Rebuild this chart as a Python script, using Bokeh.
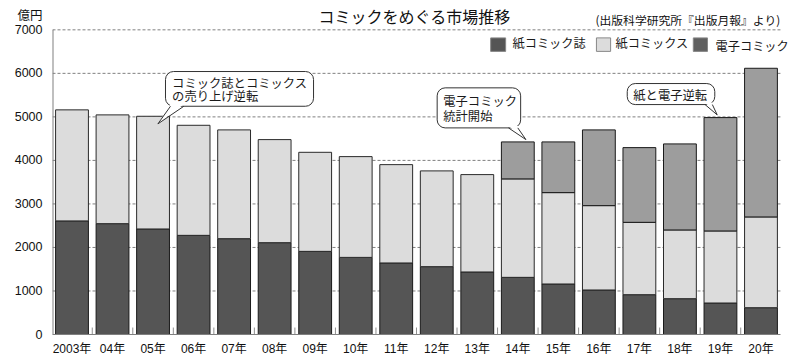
import numpy as np
from bokeh.plotting import figure
from bokeh.models import Range1d, FixedTicker, Label, ColumnDataSource
from bokeh.embed import file_html
from bokeh.resources import INLINE

# ---- data (億円) ----
years = ["2003年", "04年", "05年", "06年", "07年", "08年", "09年", "10年", "11年",
         "12年", "13年", "14年", "15年", "16年", "17年", "18年", "19年", "20年"]
magazines = [2610, 2547, 2425, 2278, 2202, 2110, 1910, 1772, 1644,
             1559, 1437, 1313, 1161, 1023, 915, 823, 724, 616]
comics = [2551, 2499, 2589, 2529, 2499, 2368, 2276, 2315, 2259,
          2200, 2237, 2262, 2099, 1938, 1662, 1579, 1655, 2085]
digital = [0, 0, 0, 0, 0, 0, 0, 0, 0,
           0, 0, 850, 1165, 1740, 1717, 1977, 2605, 3416]
y_ticks = [0, 1000, 2000, 3000, 4000, 5000, 6000, 7000]
series_names = ["紙コミック誌", "紙コミックス", "電子コミック"]
title_text = "コミックをめぐる市場推移"
source_text = "(出版科学研究所『出版月報』より)"
unit_text = "億円"
callouts = [
    ["コミック誌とコミックス", "の売り上げ逆転"],
    ["電子コミック", "統計開始"],
    ["紙と電子逆転"],
]

C_MAG = "#555555"
C_COM = "#dcdcdc"
C_DIG = "#9d9d9d"
JP = "'Noto Sans CJK JP'"
NUM = "'Liberation Sans', 'Noto Sans CJK JP'"

x = np.arange(len(years))
m = np.array(magazines, dtype=float)
c = np.array(comics, dtype=float)
d = np.array(digital, dtype=float)

X0, X1 = -0.481, len(years) - 1 + 0.48   # plotted area (bars + grid)
Y_TOP = 7000
UNIT_Y = 7329

p = figure(width=800, height=361, output_backend="svg", toolbar_location=None,
           x_range=Range1d(X0, 17.975), y_range=Range1d(0, 7674),
           min_border_left=52, min_border_right=0, min_border_top=0, min_border_bottom=27)
p.outline_line_color = None
p.background_fill_color = "white"
p.border_fill_color = "white"

# axes
p.xaxis.ticker = FixedTicker(ticks=list(x))
p.xaxis.major_label_overrides = {int(i): years[i] for i in x}
p.xaxis.bounds = (X0, X1)
p.xaxis.major_tick_line_color = None
p.xaxis.minor_tick_line_color = None
p.xaxis.axis_line_color = "#808080"
p.xaxis.major_label_text_font = NUM
p.xaxis.major_label_text_font_size = "12px"
p.xaxis.major_label_text_color = "#111111"
p.xaxis.major_label_standoff = 1

p.yaxis.ticker = FixedTicker(ticks=y_ticks + [UNIT_Y])
p.yaxis.major_label_overrides = {UNIT_Y: unit_text}
p.yaxis.major_tick_line_color = None
p.yaxis.minor_tick_line_color = None
p.yaxis.axis_line_color = None
p.yaxis.major_label_text_font = NUM
p.yaxis.major_label_text_font_size = "12.5px"
p.yaxis.major_label_text_color = "#111111"
p.yaxis.major_label_standoff = 4

p.xgrid.grid_line_color = None
p.ygrid.grid_line_color = None

# dashed grid lines limited to the plotted area
gy = [t for t in y_ticks if t > 0]
p.segment(x0=[X0] * len(gy), y0=gy, x1=[X1] * len(gy), y1=gy,
          line_color="#808080", line_dash="3 2", line_width=1)
# left axis line (0..7000)
p.segment(x0=[X0], y0=[0], x1=[X0], y1=[Y_TOP], line_color="#808080", line_width=2)

# bars
src = ColumnDataSource(dict(x=x, m=m, mc=m + c))
p.vbar(x="x", bottom=0, top="m", width=0.81, source=src,
       fill_color=C_MAG, line_color="#1a1a1a", line_width=1)
p.vbar(x="x", bottom="m", top="mc", width=0.81, source=src,
       fill_color=C_COM, line_color="#2a2a2a", line_width=1)
mask = d > 0
src_d = ColumnDataSource(dict(x=x[mask], b=(m + c)[mask], t=(m + c + d)[mask]))
p.vbar(x="x", bottom="b", top="t", width=0.81, source=src_d,
       fill_color=C_DIG, line_color="#1a1a1a", line_width=1)

# small boundary ticks on the x axis
bx = [i + 0.5 for i in range(len(years) - 1)]
p.segment(x0=bx, y0=[0] * len(bx), x1=bx, y1=[160] * len(bx),
          line_color="#909090", line_width=1)

# ---- callouts ----
def callout(left, right, top, bottom, tail_l, tail_r, tip_x, tip_y, lines, tx, ty, dy):
    p.quad(left=[left], right=[right], top=[top], bottom=[bottom], border_radius=8,
           fill_color="white", line_color="#333333", line_width=1)
    p.patch(x=[tail_l, tail_r, tip_x], y=[bottom + 45, bottom + 45, tip_y],
            fill_color="white", line_color=None)
    p.multi_line(xs=[[tail_l, tip_x], [tail_r, tip_x]], ys=[[bottom, tip_y], [bottom, tip_y]],
                 line_color="#333333", line_width=1)
    for k, t in enumerate(lines):
        p.add_layout(Label(x=tx, y=ty - k * dy, text=t, text_font=JP,
                           text_font_size="12.3px", text_color="#1a1a1a",
                           text_align="left", text_baseline="middle"))

callout(2.307, 5.96, 6042, 5244, 2.43, 2.76, 2.12, 4840, callouts[0], 2.47, 5768, 295)
callout(9.01, 11.07, 5667, 4747, 10.77, 11.0, 11.2, 4478, callouts[1], 9.16, 5359, 330)
callout(13.70, 15.86, 5766, 5283, 15.62, 15.80, 15.92, 5046, callouts[2], 13.85, 5497, 0)

# ---- legend (manual) ----
leg = [(10.33, 10.70, C_MAG, 10.87, 6708), (12.94, 13.29, C_COM, 13.41, 6708),
       (15.33, 15.68, "#606060", 15.88, 6640)]
for (l, r, col, tx, ty), name in zip(leg, series_names):
    p.quad(left=[l], right=[r], top=[6815], bottom=[6505], fill_color=col,
           line_color="#888888", line_width=1)
    p.add_layout(Label(x=tx, y=ty, text=name, text_font=JP, text_font_size="12.2px",
                       text_color="#1a1a1a", text_align="left", text_baseline="middle"))

# ---- titles ----
p.add_layout(Label(x=8.45, y=UNIT_Y, text=title_text, text_font=JP, text_font_size="16px",
                   text_color="#111111", text_align="center", text_baseline="middle"))
p.add_layout(Label(x=X1, y=7237, text=source_text, text_font=JP, text_font_size="11.8px",
                   text_color="#111111", text_align="right", text_baseline="middle"))

open("out.html", "w").write(file_html(p, INLINE))
